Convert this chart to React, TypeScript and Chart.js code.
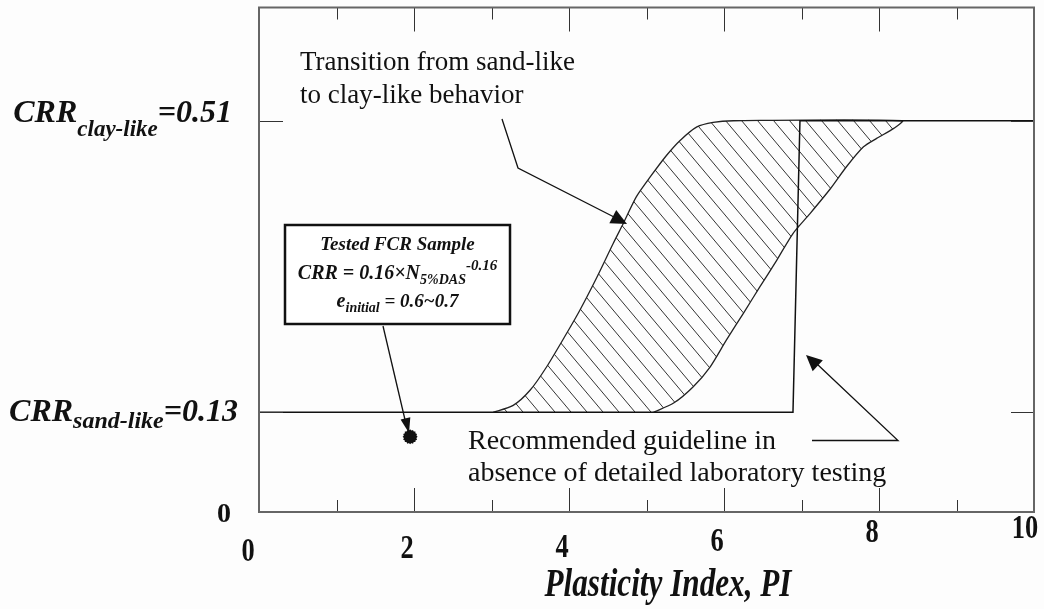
import React, { useEffect, useRef } from 'react';
import { Chart, registerables } from 'chart.js';

Chart.register(...registerables);

// ---- data ----
const xMajorTicks = [0, 2, 4, 6, 8, 10];
const xMinorTicks = [1, 3, 5, 7, 9];
const yRefValues = [0.13, 0.51];

// transition band, sand-like side (upper-left boundary), bottom to top
const bandLeftPI = [3.02, 3.28, 3.5, 3.71, 3.97, 4.14, 4.36, 4.57, 4.7, 4.87, 5.05, 5.26, 5.43, 5.65, 5.86, 6.12];
const bandLeftCRR = [0.13, 0.139, 0.159, 0.189, 0.233, 0.263, 0.306, 0.35, 0.376, 0.411, 0.437, 0.465, 0.484, 0.502, 0.508, 0.51];
// transition band, clay-like side (lower-right boundary), bottom to top
const bandRightPI = [5.09, 5.35, 5.6, 5.82, 6.03, 6.25, 6.46, 6.68, 6.89, 7.11, 7.37, 7.58, 7.8, 7.97, 8.19, 8.3];
const bandRightCRR = [0.13, 0.142, 0.163, 0.189, 0.224, 0.259, 0.293, 0.328, 0.363, 0.389, 0.421, 0.45, 0.476, 0.487, 0.5, 0.51];

// recommended guideline
const guidelinePI = [0, 6.89, 6.98, 10];
const guidelineCRR = [0.13, 0.13, 0.51, 0.51];

// tested FCR sample
const samplePI = [1.95];
const sampleCRR = [0.098];

const SERIF = '"Liberation Serif", "Times New Roman", Times, serif';

type Run = { t: string; size: number; bold?: boolean; italic?: boolean; dy?: number };

function fontOf(r: Run) {
  return `${r.italic ? 'italic ' : ''}${r.bold ? 'bold ' : ''}${r.size}px ${SERIF}`;
}

function drawRuns(ctx: CanvasRenderingContext2D, runs: Run[], x: number, base: number, align: 'left' | 'right' | 'center') {
  ctx.save();
  ctx.textAlign = 'left';
  ctx.textBaseline = 'alphabetic';
  const widths = runs.map((r) => {
    ctx.font = fontOf(r);
    return ctx.measureText(r.t).width;
  });
  const total = widths.reduce((a, b) => a + b, 0);
  let cx = align === 'left' ? x : align === 'right' ? x - total : x - total / 2;
  runs.forEach((r, i) => {
    ctx.font = fontOf(r);
    ctx.fillText(r.t, cx, base + (r.dy || 0));
    cx += widths[i];
  });
  ctx.restore();
}

function arrowHead(ctx: CanvasRenderingContext2D, fx: number, fy: number, tx: number, ty: number, len: number, w: number) {
  const a = Math.atan2(ty - fy, tx - fx);
  const bx = tx - len * Math.cos(a);
  const by = ty - len * Math.sin(a);
  const px = -Math.sin(a) * w / 2;
  const py = Math.cos(a) * w / 2;
  ctx.beginPath();
  ctx.moveTo(tx, ty);
  ctx.lineTo(bx + px, by + py);
  ctx.lineTo(bx - px, by - py);
  ctx.closePath();
  ctx.fill();
}

function makeHatch(): CanvasPattern | string {
  const w = 16;
  const h = 19;
  const c = document.createElement('canvas');
  c.width = w;
  c.height = h;
  const g = c.getContext('2d');
  if (!g) return '#ccc';
  g.strokeStyle = '#333';
  g.lineWidth = 1;
  for (const [ox, oy] of [[0, 0], [w, 0], [-w, 0], [0, h], [0, -h]]) {
    g.beginPath();
    g.moveTo(ox, oy);
    g.lineTo(ox + w, oy + h);
    g.stroke();
  }
  const p = g.createPattern(c, 'repeat');
  return p || '#ccc';
}

const decorPlugin = {
  id: 'decor',
  beforeDraw(chart: any) {
    const ctx = chart.ctx as CanvasRenderingContext2D;
    ctx.save();
    ctx.fillStyle = '#fdfdfd';
    ctx.fillRect(0, 0, chart.width, chart.height);
    ctx.restore();
  },
  afterDraw(chart: any) {
    const ctx = chart.ctx as CanvasRenderingContext2D;
    const a = chart.chartArea;
    const xs = chart.scales.x;
    const ys = chart.scales.y;
    ctx.save();

    // ticks (inward)
    ctx.strokeStyle = '#333';
    ctx.lineWidth = 1;
    const allX = [...xMajorTicks.map((v) => [v, 24]), ...xMinorTicks.map((v) => [v, 12])];
    allX.forEach(([v, len]) => {
      const px = Math.round(xs.getPixelForValue(v)) + 0.5;
      ctx.beginPath();
      ctx.moveTo(px, a.top);
      ctx.lineTo(px, a.top + len);
      ctx.moveTo(px, a.bottom);
      ctx.lineTo(px, a.bottom - len);
      ctx.stroke();
    });
    yRefValues.forEach((v) => {
      const py = Math.round(ys.getPixelForValue(v)) + 0.5;
      ctx.beginPath();
      ctx.moveTo(a.left, py);
      ctx.lineTo(a.left + 24, py);
      ctx.moveTo(a.right - 23, py);
      ctx.lineTo(a.right, py);
      ctx.stroke();
    });

    // frame
    ctx.strokeStyle = '#666';
    ctx.lineWidth = 2;
    ctx.strokeRect(a.left, a.top, a.right - a.left, a.bottom - a.top);

    ctx.fillStyle = '#111';
    // x tick labels (condensed bold)
    const drops = [49, 46, 45, 39, 30, 26];
    const shifts = [-11, -7, -7, -7, -7, -9];
    xMajorTicks.forEach((v, i) => {
      const px = xs.getPixelForValue(v) + shifts[i];
      ctx.save();
      ctx.translate(px, a.bottom + drops[i]);
      ctx.scale(0.8, 1);
      ctx.font = `bold 33px ${SERIF}`;
      ctx.textAlign = 'center';
      ctx.fillText(String(v), 0, 0);
      ctx.restore();
    });

    // x axis title
    ctx.save();
    ctx.translate(668, 596);
    ctx.scale(0.78, 1);
    ctx.font = `italic bold 40px ${SERIF}`;
    ctx.textAlign = 'center';
    ctx.fillText('Plasticity Index, PI', 0, 0);
    ctx.restore();

    // y labels
    const y51 = ys.getPixelForValue(0.51);
    const y13 = ys.getPixelForValue(0.13);
    drawRuns(ctx, [
      { t: 'CRR', size: 32, bold: true, italic: true },
      { t: 'clay-like', size: 23, bold: true, italic: true, dy: 14 },
      { t: '=0.51', size: 32, bold: true, italic: true },
    ], 232, y51 + 1, 'right');
    drawRuns(ctx, [
      { t: 'CRR', size: 32, bold: true, italic: true },
      { t: 'sand-like', size: 24, bold: true, italic: true, dy: 7 },
      { t: '=0.13', size: 32, bold: true, italic: true },
    ], 238, y13 + 9, 'right');
    drawRuns(ctx, [{ t: '0', size: 28, bold: true }], 231, ys.getPixelForValue(0) + 10, 'right');

    // sample box
    ctx.fillStyle = '#fff';
    ctx.fillRect(285, 225, 225, 99);
    ctx.strokeStyle = '#111';
    ctx.lineWidth = 2.5;
    ctx.strokeRect(285, 225, 225, 99);
    ctx.fillStyle = '#111';
    drawRuns(ctx, [{ t: 'Tested FCR Sample', size: 19, bold: true, italic: true }], 397.5, 250, 'center');
    drawRuns(ctx, [
      { t: 'CRR = 0.16\u00D7N', size: 20, bold: true, italic: true },
      { t: '5%DAS', size: 14, bold: true, italic: true, dy: 5 },
      { t: '-0.16', size: 15, bold: true, italic: true, dy: -9 },
    ], 397.5, 279, 'center');
    drawRuns(ctx, [
      { t: 'e', size: 20, bold: true, italic: true },
      { t: 'initial', size: 14, bold: true, italic: true, dy: 5 },
      { t: ' = 0.6~0.7', size: 19, bold: true, italic: true },
    ], 397.5, 307, 'center');

    // arrow box -> sample
    ctx.strokeStyle = '#111';
    ctx.lineWidth = 1.3;
    ctx.beginPath();
    ctx.moveTo(383, 326);
    ctx.lineTo(406, 424);
    ctx.stroke();
    arrowHead(ctx, 383, 326, 409, 433, 15, 10);

    // transition annotation
    drawRuns(ctx, [{ t: 'Transition from sand-like', size: 27 }], 300, 70, 'left');
    drawRuns(ctx, [{ t: 'to clay-like behavior', size: 27 }], 300, 103, 'left');
    ctx.beginPath();
    ctx.moveTo(502, 119);
    ctx.lineTo(518, 168);
    ctx.lineTo(614, 217);
    ctx.stroke();
    arrowHead(ctx, 518, 168, 627, 224, 16, 15);

    // guideline annotation
    drawRuns(ctx, [{ t: 'Recommended guideline in', size: 28 }], 468, 449, 'left');
    drawRuns(ctx, [{ t: 'absence of detailed laboratory testing', size: 28 }], 468, 481, 'left');
    ctx.beginPath();
    ctx.moveTo(812, 440.5);
    ctx.lineTo(898, 440.5);
    ctx.lineTo(817, 364);
    ctx.stroke();
    arrowHead(ctx, 898, 440, 806, 355, 16, 15);

    ctx.restore();
  },
};

export default function App() {
  const ref = useRef<HTMLCanvasElement | null>(null);

  useEffect(() => {
    if (!ref.current) return;
    const band = [
      ...bandLeftPI.map((x, i) => ({ x, y: bandLeftCRR[i] })),
      ...bandRightPI.map((x, i) => ({ x, y: bandRightCRR[i] })).reverse(),
    ];
    const guide = guidelinePI.map((x, i) => ({ x, y: guidelineCRR[i] }));
    const sample = samplePI.map((x, i) => ({ x, y: sampleCRR[i] }));

    const starPart = (rot: number) => ({
      label: 'Tested FCR sample',
      data: sample,
      showLine: false,
      pointStyle: 'rect',
      pointRotation: rot,
      pointRadius: 7.5,
      backgroundColor: '#111',
      borderColor: '#111',
      borderWidth: 0,
    });

    const chart = new Chart(ref.current, {
      type: 'line',
      data: {
        datasets: [
          {
            label: 'Recommended guideline',
            data: guide,
            borderColor: '#111',
            borderWidth: 1.5,
            pointRadius: 0,
            tension: 0,
            fill: false,
          },
          starPart(0),
          starPart(22.5),
          starPart(45),
          starPart(67.5),
          {
            label: 'Transition band',
            data: band,
            borderColor: '#222',
            borderWidth: 1.3,
            backgroundColor: makeHatch() as any,
            pointRadius: 0,
            tension: 0.25,
            fill: 'shape',
          },
        ],
      },
      options: {
        animation: false,
        responsive: false,
        maintainAspectRatio: false,
        layout: { padding: { left: 259, right: 10, top: 7, bottom: 97 } },
        plugins: { legend: { display: false }, tooltip: { enabled: false } },
        scales: {
          x: { type: 'linear', min: 0, max: 10, display: false },
          y: { type: 'linear', min: 0, max: 0.6576, display: false },
        },
      },
      plugins: [decorPlugin],
    } as any);
    return () => chart.destroy();
  }, []);

  return (
    <div style={{ position: 'absolute', left: 0, top: 0, width: 1044, height: 609 }}>
      <canvas ref={ref} width={1044} height={609} style={{ width: 1044, height: 609, display: 'block' }} />
    </div>
  );
}
